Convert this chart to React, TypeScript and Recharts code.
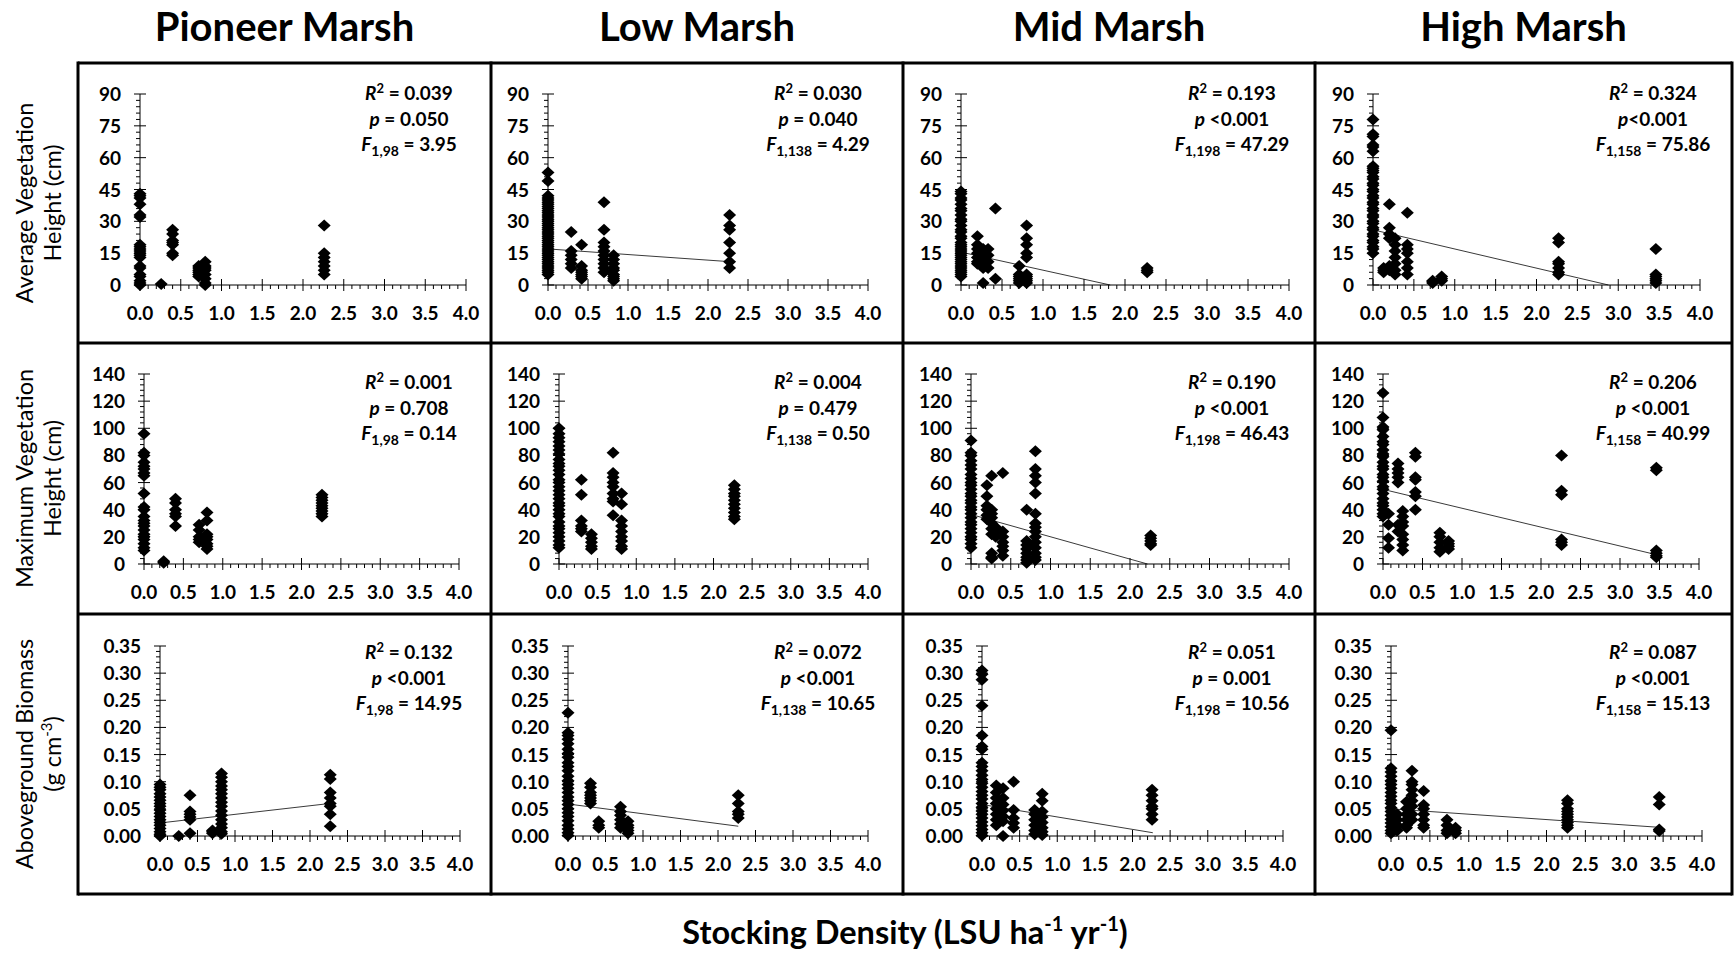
import React from 'react';
import { ScatterChart, Scatter, XAxis, YAxis, ReferenceLine } from 'recharts';

type Group = [number, number[]];
type Trend = [number, number, number, number] | null;

const FONT = 'Lato, "Open Sans", sans-serif';

const MARSHES = ['Pioneer Marsh', 'Low Marsh', 'Mid Marsh', 'High Marsh'];

// x (stocking density) groups with their y values
const PIONEER_AVG: Group[] = [
  [0, [43, 42, 41, 38, 33, 32, 19, 18, 17, 16, 15, 14, 13, 9, 8, 5, 4, 2, 1, 0]],
  [0.26, [0.5]],
  [0.4, [26, 24, 21, 20, 19, 15, 14]],
  [0.72, [9, 8, 7, 6, 5, 4]],
  [0.8, [11, 9, 8, 7, 5, 3, 1, 0]],
  [2.26, [28, 15, 13, 11, 9, 7, 5]],
];
const LOW_AVG: Group[] = [
  [0, [53, 49, 42, 41, 40, 39, 38, 37, 36, 35, 34, 33, 32, 31, 30, 29, 28, 27, 26, 25, 24, 23, 22, 21, 20, 19, 18, 17, 16, 15, 14, 13, 12, 11, 10, 9, 8, 7, 6, 5]],
  [0.29, [25, 16, 14, 12, 10, 8]],
  [0.42, [19, 9, 7, 6, 5, 4, 3]],
  [0.7, [39, 26, 20, 18, 16, 14, 12, 10, 8, 6]],
  [0.82, [14, 12, 10, 8, 7, 5, 4, 3, 2]],
  [2.27, [33, 28, 26, 20, 15, 11, 8]],
];
const MID_AVG: Group[] = [
  [0, [44, 43, 41, 40, 38, 36, 35, 33, 31, 30, 28, 26, 25, 23, 22, 20, 19, 18, 17, 16, 15, 14, 13, 12, 11, 10, 9, 8, 7, 6, 5, 4]],
  [0.2, [23, 19, 17, 15, 13, 11, 10]],
  [0.27, [17, 15, 13, 12, 10, 8, 1]],
  [0.33, [17, 14, 11, 8]],
  [0.42, [36, 3]],
  [0.71, [9, 5, 4, 3, 2, 1]],
  [0.8, [28, 22, 19, 15, 13, 5, 4, 3, 2, 1]],
  [2.27, [8, 7, 6]],
];
const HIGH_AVG: Group[] = [
  [0, [78, 71, 70, 66, 65, 63, 56, 55, 54, 53, 51, 50, 48, 47, 45, 44, 42, 41, 39, 38, 36, 35, 33, 32, 30, 29, 27, 26, 24, 23, 21, 20, 18, 17, 15]],
  [0.13, [8, 7, 6]],
  [0.2, [38, 27, 24, 22, 9, 7]],
  [0.27, [22, 19, 16, 13, 10, 7, 5]],
  [0.42, [34, 19, 17, 15, 11, 8, 5]],
  [0.73, [2, 1.5, 1]],
  [0.84, [4, 3, 2]],
  [2.27, [22, 20, 11, 10, 8, 6, 5]],
  [3.46, [17, 5, 4, 3, 2, 1]],
];

const PIONEER_MAX: Group[] = [
  [0, [96, 82, 80, 75, 72, 70, 67, 65, 52, 42, 40, 35, 32, 30, 28, 25, 22, 20, 18, 15, 12, 10]],
  [0.25, [2, 1]],
  [0.4, [48, 45, 40, 37, 35, 28]],
  [0.7, [29, 25, 20, 18, 16]],
  [0.8, [38, 32, 22, 20, 18, 15, 13, 11]],
  [2.26, [51, 49, 47, 45, 43, 41, 39, 37, 35]],
];
const LOW_MAX: Group[] = [
  [0, [100, 96, 93, 90, 87, 84, 81, 77, 74, 72, 69, 66, 62, 60, 57, 54, 51, 48, 45, 43, 40, 37, 35, 31, 28, 26, 23, 20, 17, 14, 12]],
  [0.29, [62, 51, 32, 28, 26, 24]],
  [0.42, [22, 19, 16, 13, 11]],
  [0.7, [82, 67, 64, 60, 57, 52, 48, 46, 36]],
  [0.81, [52, 44, 32, 28, 24, 20, 17, 13, 11]],
  [2.27, [58, 55, 52, 50, 47, 44, 41, 38, 35, 33]],
];
const MID_MAX: Group[] = [
  [0, [91, 82, 80, 76, 73, 70, 66, 63, 60, 58, 55, 52, 50, 47, 45, 42, 40, 37, 34, 31, 29, 26, 23, 20, 18, 15, 12]],
  [0.2, [58, 50, 43, 40, 36, 33]],
  [0.26, [65, 40, 37, 34, 30, 26, 22, 8, 5, 4]],
  [0.31, [27, 24, 20]],
  [0.4, [67, 24, 20, 16, 13, 10, 6]],
  [0.7, [40, 17, 14, 11, 8, 5, 3, 1]],
  [0.81, [83, 70, 65, 60, 52, 37, 30, 27, 24, 20, 16, 12, 8, 5, 3]],
  [2.26, [21, 19, 17, 15, 14]],
];
const HIGH_MAX: Group[] = [
  [0, [126, 108, 101, 99, 94, 90, 88, 84, 81, 79, 75, 72, 70, 66, 64, 61, 57, 55, 52, 48, 45, 43, 40, 37, 35]],
  [0.07, [37, 29, 19, 12]],
  [0.19, [74, 70, 67, 64, 60, 29, 24]],
  [0.25, [39, 35, 31, 28, 22, 18, 14, 10]],
  [0.41, [82, 79, 64, 62, 53, 50, 40]],
  [0.72, [23, 20, 16, 12, 9]],
  [0.83, [17, 15, 13, 11]],
  [2.26, [80, 54, 51, 18, 16, 14]],
  [3.46, [71, 69, 10, 8, 6, 5]],
];

const PIONEER_BIO: Group[] = [
  [0, [0.095, 0.09, 0.085, 0.078, 0.072, 0.066, 0.06, 0.055, 0.048, 0.042, 0.036, 0.03, 0.025, 0.02, 0.014, 0.008, 0.003, 0]],
  [0.25, [0]],
  [0.4, [0.075, 0.045, 0.04, 0.035, 0.03, 0.005]],
  [0.7, [0.01, 0.008, 0.005]],
  [0.82, [0.115, 0.108, 0.1, 0.092, 0.085, 0.078, 0.07, 0.062, 0.055, 0.046, 0.038, 0.03, 0.022, 0.015, 0.008, 0.004]],
  [2.27, [0.113, 0.105, 0.08, 0.07, 0.06, 0.055, 0.04, 0.018]],
];
const LOW_BIO: Group[] = [
  [0, [0.227, 0.19, 0.185, 0.178, 0.17, 0.16, 0.152, 0.145, 0.135, 0.128, 0.12, 0.11, 0.102, 0.095, 0.088, 0.08, 0.072, 0.065, 0.058, 0.05, 0.043, 0.036, 0.028, 0.02, 0.013, 0.006, 0.001]],
  [0.3, [0.097, 0.09, 0.08, 0.075, 0.07, 0.065, 0.06]],
  [0.41, [0.027, 0.02, 0.015]],
  [0.7, [0.054, 0.045, 0.038, 0.03, 0.022, 0.015]],
  [0.8, [0.027, 0.02, 0.015, 0.01, 0.005]],
  [2.27, [0.075, 0.06, 0.045, 0.04, 0.033]],
];
const MID_BIO: Group[] = [
  [0, [0.305, 0.298, 0.288, 0.24, 0.185, 0.165, 0.16, 0.135, 0.128, 0.12, 0.112, 0.104, 0.097, 0.09, 0.082, 0.075, 0.068, 0.06, 0.053, 0.046, 0.04, 0.033, 0.026, 0.019, 0.012, 0.006, 0.001]],
  [0.19, [0.093, 0.08, 0.07, 0.06, 0.05, 0.04, 0.03, 0.02]],
  [0.28, [0.088, 0.07, 0.058, 0.047, 0.036, 0.027, 0]],
  [0.42, [0.1, 0.048, 0.033, 0.024, 0.015]],
  [0.7, [0.048, 0.04, 0.03, 0.02, 0.01, 0.003]],
  [0.8, [0.078, 0.065, 0.045, 0.035, 0.025, 0.015, 0.008, 0.002]],
  [2.26, [0.085, 0.075, 0.065, 0.055, 0.05, 0.04, 0.03]],
];
const HIGH_BIO: Group[] = [
  [0, [0.195, 0.125, 0.118, 0.11, 0.102, 0.095, 0.088, 0.08, 0.073, 0.066, 0.06, 0.052, 0.045, 0.038, 0.031, 0.024, 0.017, 0.01, 0.005]],
  [0.08, [0.04, 0.03, 0.02, 0.01]],
  [0.2, [0.063, 0.05, 0.04, 0.03, 0.02, 0.015]],
  [0.27, [0.12, 0.1, 0.095, 0.085, 0.075, 0.065, 0.055, 0.04, 0.03]],
  [0.42, [0.083, 0.057, 0.05, 0.04, 0.03, 0.02, 0.015]],
  [0.72, [0.03, 0.02, 0.01, 0.005]],
  [0.83, [0.015, 0.01, 0.005]],
  [2.27, [0.066, 0.06, 0.05, 0.045, 0.04, 0.035, 0.03, 0.025, 0.02, 0.015]],
  [3.45, [0.072, 0.058, 0.012, 0.009]],
];

// trendline ends: x0, y0, x1, y1 (null = no line drawn)
const TREND_AVG: Trend[] = [null, [0, 17, 2.27, 11], [0, 15.5, 1.82, 0], [0, 26, 2.88, 0]];
const TREND_MAX: Trend[] = [null, null, [0, 36.5, 2.22, 0], [0, 55, 3.45, 7]];
const TREND_BIO: Trend[] = [[0, 0.024, 2.27, 0.06], [0, 0.059, 2.27, 0.018], [0, 0.058, 2.27, 0.006], [0, 0.05, 3.45, 0.016]];

// regression stats
const DF = ['1,98', '1,138', '1,198', '1,158'];
const R2 = [
  ['0.039', '0.030', '0.193', '0.324'],
  ['0.001', '0.004', '0.190', '0.206'],
  ['0.132', '0.072', '0.051', '0.087'],
];
const P_TXT = [
  [' = 0.050', ' = 0.040', ' <0.001', '<0.001'],
  [' = 0.708', ' = 0.479', ' <0.001', ' <0.001'],
  [' <0.001', ' <0.001', ' = 0.001', ' <0.001'],
];
const F_VAL = [
  ['3.95', '4.29', '47.29', '75.86'],
  ['0.14', '0.50', '46.43', '40.99'],
  ['14.95', '10.65', '10.56', '15.13'],
];

const X_MAJOR = [0, 0.5, 1, 1.5, 2, 2.5, 3, 3.5, 4];
const Y_MAJOR = [
  [0, 15, 30, 45, 60, 75, 90],
  [0, 20, 40, 60, 80, 100, 120, 140],
  [0, 0.05, 0.1, 0.15, 0.2, 0.25, 0.3, 0.35],
];
const Y_DIGITS = [0, 0, 2];

const DATA = [
  [PIONEER_AVG, LOW_AVG, MID_AVG, HIGH_AVG],
  [PIONEER_MAX, LOW_MAX, MID_MAX, HIGH_MAX],
  [PIONEER_BIO, LOW_BIO, MID_BIO, HIGH_BIO],
];
const TRENDS = [TREND_AVG, TREND_MAX, TREND_BIO];

// layout
const COL_LEFT = [78, 491, 903, 1315];
const COL_W = [413, 412, 412, 417];
const ROW_TOP = [63, 343, 614];
const ROW_H = [280, 271, 280];
const PLOT_TOP = [31, 31, 32];
const PLOT_BOTTOM = [222, 221, 222];
const Y_AXIS_W = [[62, 57, 58, 58], [66, 68, 68, 68], [82, 77, 79, 76]];
const PLOT_RIGHT = [[388, 377, 386, 385], [381, 377, 386, 384], [382, 377, 380, 387]];
const STATS_X = [331, 327, 329, 338];
const STATS_BASE = [37, 46, 45];
const X_AXIS_H = 30;

const withMinor = (major: number[], parts = 5) => {
  const out: number[] = [];
  major.forEach((v, i) => {
    out.push(v);
    if (i < major.length - 1) {
      const step = (major[i + 1] - v) / parts;
      for (let k = 1; k < parts; k++) out.push(v + step * k);
    }
  });
  return out;
};
const isMajor = (major: number[], v: number) => major.some((m) => Math.abs(m - v) < 1e-9);

const X_TICKS = withMinor(X_MAJOR);
const Y_TICKS = Y_MAJOR.map((m) => withMinor(m));

const tickText = { fontFamily: FONT, fontWeight: 700, fontSize: 19, fill: '#000' };

const xTick = (props: any) => {
  const { x, y, payload } = props;
  const major = isMajor(X_MAJOR, payload.value);
  return (
    <g>
      <line x1={x} x2={x} y1={major ? y - 6 : y} y2={major ? y + 6 : y + 4} stroke="#000" />
      {major && (
        <text x={x} y={y + 35} textAnchor="middle" {...tickText}>
          {payload.value.toFixed(1)}
        </text>
      )}
    </g>
  );
};

const yTick = (r: number) => (props: any) => {
  const { x, y, payload } = props;
  const major = isMajor(Y_MAJOR[r], payload.value);
  return (
    <g>
      <line x1={major ? x - 6 : x - 4} x2={major ? x + 6 : x} y1={y} y2={y} stroke="#000" />
      {major && (
        <text x={x - 19} y={y + 7} textAnchor="end" {...tickText}>
          {payload.value.toFixed(Y_DIGITS[r])}
        </text>
      )}
    </g>
  );
};

const diamond = (props: any) => {
  const { cx, cy } = props;
  return <path d={`M${cx},${cy - 6}L${cx + 6.5},${cy}L${cx},${cy + 6}L${cx - 6.5},${cy}Z`} fill="#000" />;
};

function Panel({ r, c }: { r: number; c: number }) {
  const w = COL_W[c];
  const h = ROW_H[r];
  const points = DATA[r][c].flatMap(([x, ys]) => ys.map((y) => ({ x, y })));
  const trend = TRENDS[r][c];
  const yMajor = Y_MAJOR[r];
  return (
    <div style={{ position: 'absolute', left: COL_LEFT[c], top: ROW_TOP[r] }}>
      <ScatterChart
        width={w}
        height={h}
        margin={{ top: PLOT_TOP[r], right: w - PLOT_RIGHT[r][c], bottom: h - PLOT_BOTTOM[r] - X_AXIS_H, left: 0 }}
      >
        <XAxis
          type="number"
          dataKey="x"
          domain={[0, 4]}
          ticks={X_TICKS}
          interval={0}
          height={X_AXIS_H}
          tickSize={0}
          tickMargin={0}
          tickLine={false}
          axisLine={{ stroke: '#000' }}
          tick={xTick}
        />
        <YAxis
          type="number"
          dataKey="y"
          domain={[0, yMajor[yMajor.length - 1]]}
          ticks={Y_TICKS[r]}
          interval={0}
          width={Y_AXIS_W[r][c]}
          tickSize={0}
          tickMargin={0}
          tickLine={false}
          axisLine={{ stroke: '#000' }}
          tick={yTick(r)}
        />
        {trend && (
          <ReferenceLine
            segment={[{ x: trend[0], y: trend[1] }, { x: trend[2], y: trend[3] }]}
            stroke="#3a3a3a"
            strokeWidth={1}
          />
        )}
        <Scatter data={points} shape={diamond} fill="#000" isAnimationActive={false} />
      </ScatterChart>
    </div>
  );
}

function Stats({ r, c }: { r: number; c: number }) {
  const x = COL_LEFT[c] + STATS_X[c];
  const y = ROW_TOP[r] + STATS_BASE[r];
  const st = { fontFamily: FONT, fontWeight: 700, fontSize: 19, fill: '#000' };
  return (
    <g>
      <text x={x} y={y} textAnchor="middle" {...st}>
        <tspan fontStyle="italic">R</tspan>
        <tspan fontSize={13} dy={-7}>2</tspan>
        <tspan dy={7}>{` = ${R2[r][c]}`}</tspan>
      </text>
      <text x={x} y={y + 25.5} textAnchor="middle" {...st}>
        <tspan fontStyle="italic">p</tspan>
        <tspan>{P_TXT[r][c]}</tspan>
      </text>
      <text x={x} y={y + 51} textAnchor="middle" {...st}>
        <tspan fontStyle="italic">F</tspan>
        <tspan fontSize={14} dy={5}>{DF[c]}</tspan>
        <tspan dy={-5}>{` = ${F_VAL[r][c]}`}</tspan>
      </text>
    </g>
  );
}

const rowCenter = (r: number) => ROW_TOP[r] + ROW_H[r] / 2;

export default function App() {
  const gridRight = 1732;
  const gridBottom = 894;
  const vLines = [...COL_LEFT, gridRight];
  const hLines = [...ROW_TOP, gridBottom];
  const labelSt = { fontFamily: FONT, fontSize: 23.5, fill: '#000' };
  return (
    <div style={{ position: 'absolute', left: 0, top: 0, width: 1735, height: 953, background: '#fff' }}>
      {[0, 1, 2].map((r) => [0, 1, 2, 3].map((c) => <Panel key={`${r}-${c}`} r={r} c={c} />))}
      <svg width={1735} height={953} style={{ position: 'absolute', left: 0, top: 0, pointerEvents: 'none' }}>
        {vLines.map((x) => (
          <line key={`v${x}`} x1={x} x2={x} y1={ROW_TOP[0] - 1.5} y2={gridBottom + 1.5} stroke="#000" strokeWidth={3} />
        ))}
        {hLines.map((y) => (
          <line key={`h${y}`} x1={COL_LEFT[0]} x2={gridRight} y1={y} y2={y} stroke="#000" strokeWidth={3} />
        ))}
        {MARSHES.map((m, c) => (
          <text
            key={m}
            x={COL_LEFT[c] + COL_W[c] / 2}
            y={41}
            textAnchor="middle"
            fontFamily={FONT}
            fontWeight={700}
            fontSize={40}
          >
            {m}
          </text>
        ))}
        {[0, 1, 2].map((r) => [0, 1, 2, 3].map((c) => <Stats key={`s${r}-${c}`} r={r} c={c} />))}
        <g transform={`translate(33,${rowCenter(0)}) rotate(-90)`}>
          <text x={0} y={0} textAnchor="middle" {...labelSt}>Average Vegetation</text>
          <text x={0} y={28} textAnchor="middle" {...labelSt}>Height (cm)</text>
        </g>
        <g transform={`translate(33,${rowCenter(1)}) rotate(-90)`}>
          <text x={0} y={0} textAnchor="middle" {...labelSt}>Maximum Vegetation</text>
          <text x={0} y={28} textAnchor="middle" {...labelSt}>Height (cm)</text>
        </g>
        <g transform={`translate(33,${rowCenter(2)}) rotate(-90)`}>
          <text x={0} y={0} textAnchor="middle" {...labelSt}>Aboveground Biomass</text>
          <text x={0} y={28} textAnchor="middle" {...labelSt}>
            <tspan>(g cm</tspan>
            <tspan fontSize={15} dy={-9}>-3</tspan>
            <tspan dy={9}>)</tspan>
          </text>
        </g>
        <text x={905} y={944} textAnchor="middle" fontFamily={FONT} fontWeight={700} fontSize={32.5}>
          <tspan>Stocking Density (LSU ha</tspan>
          <tspan fontSize={20} dy={-13}>-1</tspan>
          <tspan dy={13}> yr</tspan>
          <tspan fontSize={20} dy={-13}>-1</tspan>
          <tspan dy={13}>)</tspan>
        </text>
      </svg>
    </div>
  );
}
